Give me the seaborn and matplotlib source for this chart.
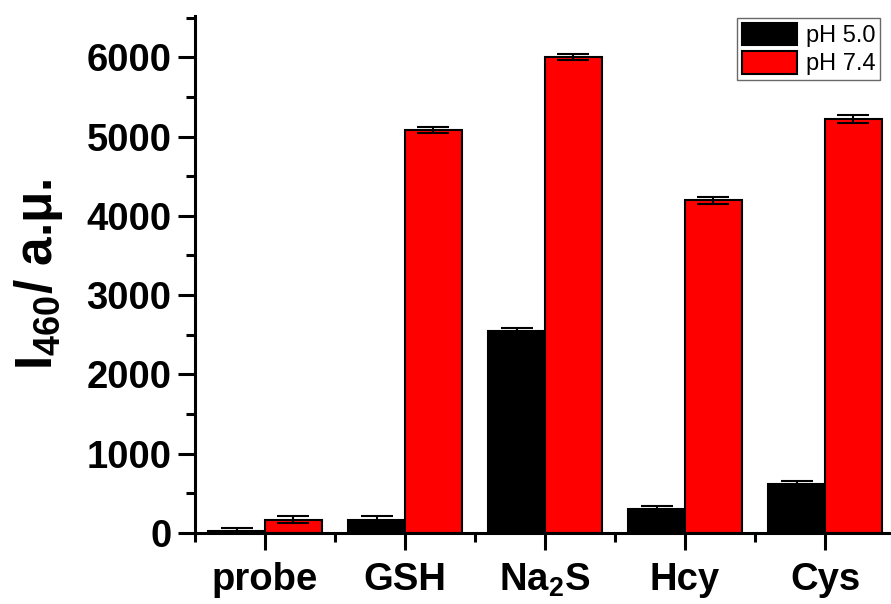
import matplotlib
matplotlib.use("Agg")
import matplotlib.pyplot as plt
import seaborn as sns
import pandas as pd
import numpy as np
from matplotlib.ticker import MultipleLocator, FixedLocator

categories = ["probe", "GSH", "Na2S", "Hcy", "Cys"]
tick_labels = ["probe", "GSH", r"Na$_\mathbf{2}$S", "Hcy", "Cys"]
series = ["pH 5.0", "pH 7.4"]
ph50 = [30, 165, 2550, 300, 612]
ph74 = [170, 5085, 6000, 4195, 5222]
err50 = [32, 48, 33, 36, 38]
err74 = [40, 38, 38, 40, 48]

sns.set_style("ticks")
plt.rcParams["font.family"] = ["Liberation Sans", "DejaVu Sans"]
plt.rcParams["mathtext.fontset"] = "custom"
plt.rcParams["mathtext.rm"] = "Liberation Sans"
plt.rcParams["mathtext.bf"] = "Liberation Sans:bold"
plt.rcParams["mathtext.it"] = "Liberation Sans:italic"
for k in ["text.color", "axes.labelcolor", "xtick.color", "ytick.color",
          "axes.edgecolor"]:
    plt.rcParams[k] = "black"

df = pd.DataFrame({
    "cat": categories * 2,
    "series": [series[0]] * 5 + [series[1]] * 5,
    "val": ph50 + ph74,
})
errs = {series[0]: err50, series[1]: err74}

fig = plt.figure(figsize=(8.91, 6.04), dpi=100)
ax = fig.add_axes([195 / 891, 71 / 604, 700 / 891, 517 / 604])

sns.barplot(data=df, x="cat", y="val", hue="series", order=categories,
            hue_order=series, palette=["#000000", "#ff0000"],
            width=0.814, gap=0, edgecolor="black", linewidth=1.5,
            errorbar=None, ax=ax, saturation=1)

for cont, s in zip(ax.containers, series):
    xs = [b.get_x() + b.get_width() / 2 for b in cont]
    hs = [b.get_height() for b in cont]
    ax.errorbar(xs, hs, yerr=errs[s], fmt="none", ecolor="black",
                elinewidth=1.5, capsize=11.5, capthick=1.5, zorder=5)

ax.set_xlim(-0.5, 4.5)
ax.set_ylim(0, 6520)
ax.yaxis.set_major_locator(MultipleLocator(1000))
ax.yaxis.set_minor_locator(MultipleLocator(500))
ax.xaxis.set_minor_locator(FixedLocator(np.arange(-0.5, 5, 1.0)))
ax.set_xticks(range(len(categories)))
ax.set_xticklabels(tick_labels, fontsize=27.5, fontweight="bold")
for t in ax.get_yticklabels():
    t.set_fontsize(27.5)
    t.set_fontweight("bold")

sns.despine(ax=ax)
for sp in ["left", "bottom"]:
    ax.spines[sp].set_linewidth(2.2)
    ax.spines[sp].set_color("black")
ax.tick_params(which="major", length=12, width=2.2, pad=5, colors="black")
ax.tick_params(which="minor", length=6.5, width=2.2, colors="black")
ax.tick_params(axis="x", which="major", pad=9)

ax.set_xlabel("")
ax.set_ylabel(r"I$_\mathbf{460}$/ a.μ.", fontsize=37, fontweight="bold",
              labelpad=15, color="black")

handles, labels = ax.get_legend_handles_labels()
leg = ax.legend(handles, labels, loc="upper right",
                bbox_to_anchor=(880 / 891, 1 - 18 / 604),
                bbox_transform=fig.transFigure, fontsize=17,
                frameon=True, fancybox=False, edgecolor="#444444",
                handlelength=2.35, handleheight=1.1, handletextpad=0.35,
                labelspacing=0.17, borderpad=0.2, borderaxespad=0)
leg.get_frame().set_linewidth(1.0)
for t in leg.get_texts():
    t.set_color("black")

fig.savefig("out.png", dpi=100)
